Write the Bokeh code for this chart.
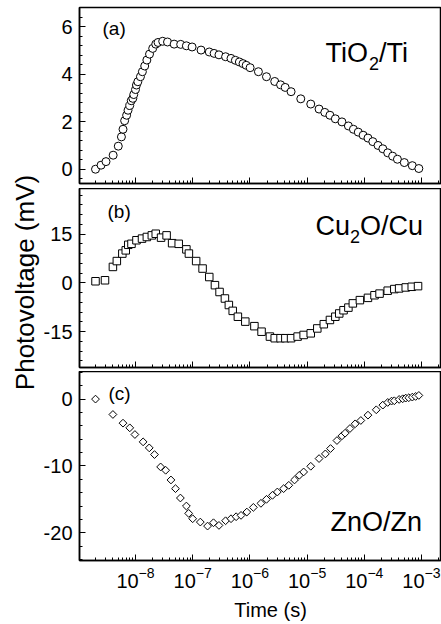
import math
from bokeh.plotting import figure
from bokeh.layouts import column, row
from bokeh.models import (Label, SingleIntervalTicker, LogTicker, Range1d,
                          CustomJSTickFormatter)
from bokeh.embed import file_html
from bokeh.resources import INLINE

FONT = "Liberation Sans"

# ---------------- data (time in s, photovoltage in mV) ----------------
t_a = [2.0e-9, 2.5e-9, 3.05e-9, 4.07e-9, 5.0e-9, 5.68e-9, 6.05e-9, 6.46e-9, 7.0e-9,
       7.41e-9, 7.94e-9, 8.43e-9, 8.99e-9, 9.33e-9, 1.0e-8, 1.04e-8, 1.10e-8, 1.22e-8,
       1.32e-8, 1.45e-8, 1.58e-8, 1.76e-8, 2.0e-8, 2.26e-8, 2.48e-8, 2.99e-8, 3.63e-8,
       4.74e-8, 6.17e-8, 7.76e-8, 9.77e-8, 1.40e-7, 1.95e-7, 2.37e-7, 2.88e-7, 3.76e-7,
       4.68e-7, 5.58e-7, 6.55e-7, 7.59e-7, 8.63e-7, 1.01e-6, 1.41e-6, 1.95e-6, 2.72e-6,
       3.44e-6, 4.14e-6, 5.25e-6, 7.76e-6, 1.16e-5, 1.62e-5, 2.04e-5, 2.51e-5, 3.12e-5,
       4.07e-5, 5.28e-5, 6.46e-5, 7.85e-5, 9.55e-5, 1.16e-4, 1.41e-4, 1.74e-4, 2.11e-4,
       2.57e-4, 3.13e-4, 3.80e-4, 5.01e-4, 6.92e-4, 9.0e-4]
v_a = [0.0, 0.17, 0.32, 0.59, 0.97, 1.36, 1.68, 2.04, 2.27, 2.48, 2.68, 2.88, 2.98, 3.14,
       3.35, 3.54, 3.68, 3.89, 4.10, 4.34, 4.59, 4.84, 5.08, 5.26, 5.33, 5.38, 5.35, 5.26,
       5.25, 5.19, 5.14, 5.01, 4.93, 4.87, 4.81, 4.73, 4.66, 4.58, 4.51, 4.44, 4.37, 4.27,
       4.10, 3.89, 3.69, 3.55, 3.44, 3.26, 2.96, 2.74, 2.53, 2.39, 2.27, 2.12, 1.99, 1.82,
       1.68, 1.56, 1.43, 1.31, 1.16, 1.00, 0.86, 0.69, 0.55, 0.42, 0.28, 0.15, 0.03]

t_b = [2.0e-9, 2.93e-9, 4.03e-9, 4.72e-9, 5.89e-9, 6.76e-9, 7.48e-9, 8.51e-9, 1.04e-8,
       1.30e-8, 1.58e-8, 1.93e-8, 2.26e-8, 2.80e-8, 3.50e-8, 4.37e-8, 5.70e-8, 7.76e-8,
       8.59e-8, 1.15e-7, 1.49e-7, 1.95e-7, 2.45e-7, 2.95e-7, 3.66e-7, 4.29e-7, 5.01e-7,
       6.17e-7, 8.32e-7, 1.20e-6, 1.60e-6, 2.24e-6, 2.72e-6, 3.44e-6, 4.17e-6, 5.25e-6,
       6.84e-6, 8.71e-6, 1.16e-5, 1.51e-5, 1.96e-5, 2.51e-5, 3.12e-5, 3.65e-5, 4.34e-5,
       5.28e-5, 6.31e-5, 8.38e-5, 1.16e-4, 1.51e-4, 1.85e-4, 2.57e-4, 3.35e-4, 4.07e-4,
       5.31e-4, 6.76e-4, 8.71e-4]
v_b = [0.5, 0.8, 4.9, 6.7, 9.0, 10.0, 11.7, 12.0, 13.1, 13.6, 14.1, 14.6, 15.1, 13.9,
       14.6, 12.2, 12.0, 10.3, 9.0, 6.7, 4.4, 1.8, -0.7, -2.8, -4.8, -6.8, -8.6, -10.4,
       -11.9, -13.3, -15.0, -16.5, -17.0, -17.0, -17.0, -17.0, -16.5, -16.0, -15.5, -14.0,
       -12.7, -11.4, -10.4, -9.4, -8.4, -7.6, -6.3, -5.3, -4.6, -3.8, -3.3, -2.4, -1.9,
       -1.7, -1.4, -1.2, -1.0]

t_c = [2.0e-9, 4.03e-9, 6.05e-9, 7.94e-9, 9.77e-9, 1.36e-8, 1.74e-8, 2.15e-8, 2.75e-8,
       3.37e-8, 4.17e-8, 5.01e-8, 6.10e-8, 7.76e-8, 8.51e-8, 1.0e-7, 1.36e-7, 1.82e-7,
       2.31e-7, 2.88e-7, 3.76e-7, 4.68e-7, 5.75e-7, 7.0e-7, 8.85e-7, 1.15e-6, 1.56e-6,
       1.95e-6, 2.48e-6, 3.02e-6, 3.89e-6, 4.79e-6, 6.03e-6, 7.31e-6, 8.71e-6, 1.16e-5,
       1.62e-5, 2.09e-5, 2.57e-5, 3.33e-5, 4.07e-5, 4.62e-5, 5.62e-5, 6.92e-5, 8.71e-5,
       1.16e-4, 1.62e-4, 2.11e-4, 2.57e-4, 3.0e-4, 3.35e-4, 4.07e-4, 4.7e-4, 5.31e-4,
       6.0e-4, 6.92e-4, 7.9e-4, 9.0e-4]
v_c = [0.0, -2.3, -3.6, -4.3, -5.3, -6.4, -7.3, -8.3, -10.15, -10.65, -12.1, -13.4, -14.8,
       -16.0, -17.1, -17.9, -18.4, -19.0, -18.5, -18.9, -18.2, -17.9, -17.6, -17.4, -16.9,
       -16.2, -15.6, -15.0, -14.4, -13.9, -13.4, -12.9, -12.1, -11.4, -10.9, -10.05, -8.9,
       -8.2, -7.4, -6.2, -5.5, -5.1, -4.4, -3.7, -3.2, -2.4, -1.6, -0.9, -0.5, -0.3, -0.25,
       -0.05, 0.05, 0.15, 0.2, 0.3, 0.4, 0.55]

X_RANGE = (1.05e-9, 2.24e-3)
Y_RANGE_A = (-0.6, 6.8)
Y_RANGE_B = (-26.0, 29.0)
Y_RANGE_C = (-24.15, 4.13)

TOP = 7
LEFT_FIG_W = 40
BORDER_L = 39
FRAME_W = 362
FRAMES = (176, 179, 189)
BOTTOMS = (5, 4, 40)
TIME_H = 24
TOTAL_H = TOP + sum(FRAMES) + sum(BOTTOMS) + TIME_H


def make_panel(y_range, interval, frame_h, mb_top, mb_bottom, last):
    p = figure(x_axis_type="log", x_range=Range1d(*X_RANGE), y_range=Range1d(*y_range),
               frame_width=FRAME_W, frame_height=frame_h, title=None,
               min_border_left=BORDER_L, min_border_right=0,
               min_border_top=mb_top, min_border_bottom=mb_bottom,
               output_backend="svg", toolbar_location=None)
    p.xgrid.visible = False
    p.ygrid.visible = False
    p.outline_line_color = "black"
    p.outline_line_width = 1.5
    p.outline_line_alpha = 1.0
    p.background_fill_color = "white"
    p.border_fill_color = "white"
    for ax in (p.xaxis[0], p.yaxis[0]):
        ax.axis_line_width = 1.5
        ax.axis_line_color = "black"
        ax.major_tick_in = 6
        ax.major_tick_out = 0
        ax.minor_tick_in = 3
        ax.minor_tick_out = 0
        ax.major_tick_line_color = "black"
        ax.minor_tick_line_color = "black"
        ax.major_label_text_font = FONT
        ax.major_label_text_font_size = "20px"
        ax.major_label_text_color = "black"
    p.yaxis[0].ticker = SingleIntervalTicker(interval=interval, num_minor_ticks=5)
    p.yaxis[0].formatter = CustomJSTickFormatter(code="return tick.toFixed(0)")
    p.yaxis[0].major_label_standoff = 7
    p.xaxis[0].ticker = LogTicker(num_minor_ticks=10)
    if last:
        p.xaxis[0].major_label_standoff = 6
    else:
        p.xaxis[0].formatter = CustomJSTickFormatter(code="return ''")
        p.xaxis[0].major_label_text_font_size = "0px"
        p.xaxis[0].major_label_standoff = 0
    return p


def add_text(p, x, y, text, size, align="left", angle=0.0):
    p.add_layout(Label(x=x, y=y, x_units="screen", y_units="screen", text=text,
                       text_font=FONT, text_font_size=size, text_color="black",
                       text_baseline="middle", text_align=align, angle=angle))


def blank_fig(w, h, left=0, top=0):
    f = figure(width=w, height=h, x_range=Range1d(0, 1), y_range=Range1d(0, 1),
               min_border_left=left, min_border_right=0, min_border_top=top,
               min_border_bottom=0, x_axis_location=None, y_axis_location=None,
               title=None, output_backend="svg", toolbar_location=None)
    f.grid.visible = False
    f.outline_line_color = None
    f.background_fill_color = "white"
    f.border_fill_color = "white"
    return f


pa = make_panel(Y_RANGE_A, 2, FRAMES[0], TOP, BOTTOMS[0], False)
pb = make_panel(Y_RANGE_B, 15, FRAMES[1], 0, BOTTOMS[1], False)
pc = make_panel(Y_RANGE_C, 10, FRAMES[2], 0, BOTTOMS[2], True)

pa.scatter(t_a, v_a, marker="circle", size=8, fill_color="white",
           line_color="black", line_width=1)
pb.scatter(t_b, v_b, marker="square", size=7.5, fill_color="white",
           line_color="black", line_width=1)
pc.scatter(t_c, v_c, marker="square", size=5.5, angle=math.pi / 4, fill_color="white",
           line_color="black", line_width=1)

# panel letters (positions relative to each frame: x from left, y from bottom)
add_text(pa, 23, 155, "(a)", "19px")
add_text(pb, 28, 156, "(b)", "19px")
add_text(pc, 29, 167, "(c)", "19px")

# sample names with subscripts
add_text(pa, 246, 130.5, "TiO", "27px")
add_text(pa, 289.5, 120, "2", "18px")
add_text(pa, 299.5, 130.5, "/Ti", "27px")

add_text(pb, 236, 142, "Cu", "27px")
add_text(pb, 270.5, 131, "2", "18px")
add_text(pb, 280.5, 142, "O/Cu", "27px")

add_text(pc, 251, 39, "ZnO/Zn", "27px")

# x axis title in a strip below the bottom panel (same frame geometry as the panels)
tf = figure(frame_width=FRAME_W, frame_height=TIME_H, x_range=Range1d(0, 1),
            y_range=Range1d(0, 1), min_border_left=BORDER_L, min_border_right=0,
            min_border_top=0, min_border_bottom=0, x_axis_location=None,
            y_axis_location=None, title=None, output_backend="svg", toolbar_location=None)
tf.grid.visible = False
tf.outline_line_color = None
tf.background_fill_color = "white"
tf.border_fill_color = "white"
add_text(tf, 191, 15, "Time (s)", "20px", "center")

# y axis title in a narrow strip on the left spanning all panels
lab = blank_fig(LEFT_FIG_W, TOTAL_H, 0, TOP)
add_text(lab, 24, TOTAL_H - 282, "Photovoltage (mV)", "26px", "center", math.pi / 2)

layout = row(lab, column(pa, pb, pc, tf, spacing=0), spacing=0)
open("out.html", "w").write(file_html(layout, INLINE))
